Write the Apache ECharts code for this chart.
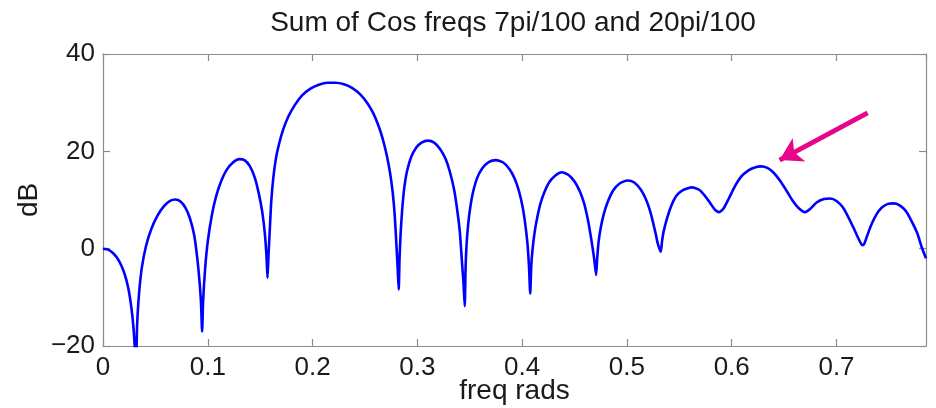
<!DOCTYPE html>
<html>
<head>
<meta charset="utf-8">
<script src="https://cdn.jsdelivr.net/npm/echarts@6/dist/echarts.min.js"></script>
<style>
html,body{margin:0;padding:0;background:#fff;}
#chart{width:936px;height:408px;}
</style>
</head>
<body>
<div id="chart"></div>
<script>
const titleText = 'Sum of Cos freqs 7pi/100 and 20pi/100';
const xName = 'freq rads';
const yName = 'dB';
const xTickLabels = ['0', '0.1', '0.2', '0.3', '0.4', '0.5', '0.6', '0.7'];
const yTickLabels = ['\u221220', '0', '20', '40'];

const freqRads = [
  0.000, 0.005, 0.010, 0.015, 0.020, 0.024, 0.027, 0.029, 0.0305, 0.0315,
  0.0325, 0.0345, 0.037, 0.041, 0.046, 0.052, 0.058, 0.064, 0.069, 0.074,
  0.079, 0.083, 0.087, 0.090, 0.092, 0.0935, 0.0946, 0.0955, 0.0975, 0.100,
  0.104, 0.108, 0.113, 0.118, 0.124, 0.130, 0.135, 0.140, 0.145, 0.149,
  0.152, 0.1545, 0.156, 0.157, 0.158, 0.1592, 0.1605, 0.1625, 0.165, 0.168,
  0.172, 0.177, 0.183, 0.190, 0.198, 0.206, 0.214, 0.222, 0.230, 0.238,
  0.245, 0.252, 0.258, 0.263, 0.267, 0.271, 0.274, 0.2765, 0.2785, 0.2802,
  0.2812, 0.2822, 0.2830, 0.2840, 0.2855, 0.2875, 0.290, 0.294, 0.299, 0.304,
  0.310, 0.316, 0.322, 0.327, 0.331, 0.335, 0.338, 0.3405, 0.3425, 0.3440,
  0.3452, 0.3460, 0.3470, 0.3485, 0.3505, 0.353, 0.357, 0.362, 0.368, 0.375,
  0.382, 0.388, 0.393, 0.397, 0.4005, 0.403, 0.405, 0.4065, 0.4077, 0.4087,
  0.4100, 0.4120, 0.4145, 0.4175, 0.421, 0.426, 0.432, 0.438, 0.444, 0.450,
  0.455, 0.459, 0.4625, 0.465, 0.467, 0.4688, 0.4706, 0.4716, 0.4730, 0.4750,
  0.478, 0.482, 0.487, 0.493, 0.5005, 0.507, 0.513, 0.518, 0.522, 0.525,
  0.5275, 0.5295, 0.5323, 0.5335, 0.535, 0.538, 0.542, 0.547, 0.553, 0.562,
  0.569, 0.575, 0.580, 0.584, 0.588, 0.592, 0.597, 0.603, 0.609, 0.616,
  0.622, 0.628, 0.634, 0.640, 0.646, 0.652, 0.658, 0.664, 0.670, 0.675,
  0.681, 0.688, 0.694, 0.700, 0.706, 0.711, 0.716, 0.720, 0.7235, 0.725,
  0.7265, 0.729, 0.733, 0.738, 0.743, 0.749, 0.755, 0.761, 0.767, 0.772,
  0.777, 0.781, 0.7854
];
const dBValues = [
  0.0, -0.2, -1.0, -2.4, -4.8, -8.0, -12.0, -16.0, -21, -26,
  -16, -9, -4, 0.5, 4.0, 6.8, 8.7, 9.8, 10.1, 9.7,
  8.3, 6.2, 2.8, -2.0, -6.5, -11, -17, -11, -4, 1.5,
  7.0, 10.8, 14.0, 16.2, 17.7, 18.4, 18.2, 17.0, 14.5, 11.0,
  7.5, 3.0, -1.5, -6.0, -1, 4, 9.5, 14.5, 18.5, 21.5,
  24.5, 27.2, 29.5, 31.5, 32.9, 33.7, 34.1, 34.1, 33.8, 33.0,
  31.8, 30.0, 27.8, 25.2, 22.5, 19.0, 15.5, 11.5, 6.5, 0,
  -4, -8.4, -2, 3, 8, 12.5, 15.8, 18.8, 20.8, 21.8,
  22.2, 21.8, 20.4, 18.4, 15.8, 12.2, 8.0, 3.5, -2.5, -7,
  -11.8, -4, 1, 5, 8.5, 11.5, 14.5, 16.5, 17.8, 18.2,
  17.7, 16.3, 14.3, 11.8, 8.5, 5, 1.2, -3.5, -9.2, -3.5,
  0, 3.5, 6.5, 9.3, 11.5, 13.7, 15.1, 15.7, 15.2, 13.8,
  11.8, 9.4, 6.2, 3.2, 0.5, -2.2, -5.4, -2, 1.5, 4.3,
  7.2, 9.8, 12.0, 13.4, 14.0, 13.6, 12.2, 10.2, 7.8, 5.3,
  3.0, 1.0, -0.6, 1.5, 3.5, 6.0, 8.6, 10.8, 12.0, 12.6,
  12.1, 10.7, 9.2, 8.0, 7.5, 8.2, 10.2, 12.8, 14.8, 16.1,
  16.7, 16.9, 16.6, 15.6, 14.0, 12.0, 9.9, 8.3, 7.5, 8.2,
  9.5, 10.2, 10.3, 9.8, 8.5, 6.6, 4.4, 2.5, 1.0, 0.7,
  1.0, 2.5, 4.8, 7.0, 8.4, 9.2, 9.3, 8.8, 7.5, 5.5,
  3.2, 0.5, -2.0
];
const arrowFrom = [0.7297, 27.9];
const arrowTo = [0.6457, 18.2];

const xMin = 0, xMax = 0.7854, xStep = 0.1;
const yMin = -20, yMax = 40, yStep = 20;

const seriesData = freqRads.map((f, i) => [f, dBValues[i]]);

const FONT = '"Liberation Sans", Arial, Helvetica, sans-serif';
const AX = '#8c8c8c';

function xLab(v) {
  const i = Math.round(v / xStep);
  return (Math.abs(v - i * xStep) < 1e-6 && xTickLabels[i] !== undefined) ? xTickLabels[i] : '';
}
function yLab(v) {
  const i = Math.round((v - yMin) / yStep);
  return yTickLabels[i] !== undefined ? yTickLabels[i] : '';
}

const chart = echarts.init(document.getElementById('chart'), null, {renderer: 'canvas'});
function axisBase() {
  return {
    type: 'value',
    splitLine: {show: false},
    axisLine: {show: true, onZero: false, lineStyle: {color: AX, width: 1.2}},
    axisTick: {show: true, inside: true, length: 7, lineStyle: {color: AX, width: 1.2}}
  };
}
chart.setOption({
  animation: false,
  backgroundColor: '#ffffff',
  title: {
    text: titleText,
    left: 508, top: 4, textAlign: 'center',
    textStyle: {fontFamily: FONT, fontSize: 28, fontWeight: 'normal', color: '#1a1a1a'}
  },
  grid: {left: 103, right: 10, top: 54, bottom: 62, show: false,
    containLabel: false, outerBoundsMode: 'none'},
  xAxis: [
    Object.assign(axisBase(), {
      position: 'bottom', min: xMin, max: xMax, interval: xStep,
      name: xName, nameLocation: 'middle', nameGap: 31, nameMoveOverlap: false,
      nameTextStyle: {fontFamily: FONT, fontSize: 28, color: '#1a1a1a'},
      axisLabel: {show: true, showMaxLabel: false, margin: 9, formatter: xLab,
        fontFamily: FONT, fontSize: 26, color: '#1a1a1a'}
    }),
    Object.assign(axisBase(), {
      position: 'top', min: xMin, max: xMax, interval: xStep,
      axisLabel: {show: false}
    })
  ],
  yAxis: [
    Object.assign(axisBase(), {
      position: 'left', min: yMin, max: yMax, interval: yStep,
      name: yName, nameLocation: 'middle', nameGap: 60, nameRotate: 90, nameMoveOverlap: false,
      nameTextStyle: {fontFamily: FONT, fontSize: 28, color: '#1a1a1a'},
      axisLabel: {show: true, margin: 8, formatter: yLab,
        fontFamily: FONT, fontSize: 26, color: '#1a1a1a'}
    }),
    Object.assign(axisBase(), {
      position: 'right', min: yMin, max: yMax, interval: yStep,
      axisLabel: {show: false}
    })
  ],
  series: [{
    type: 'line',
    data: seriesData,
    showSymbol: false,
    smooth: 0.2,
    clip: true,
    lineStyle: {color: '#0000ff', width: 2.6},
    markLine: {
      silent: true,
      symbol: ['none', 'arrow'],
      symbolSize: [20, 22],
      label: {show: false},
      lineStyle: {color: '#e8058a', width: 5, type: 'solid'},
      data: [[{coord: arrowFrom}, {coord: arrowTo}]]
    }
  }]
});
</script>
</body>
</html>
